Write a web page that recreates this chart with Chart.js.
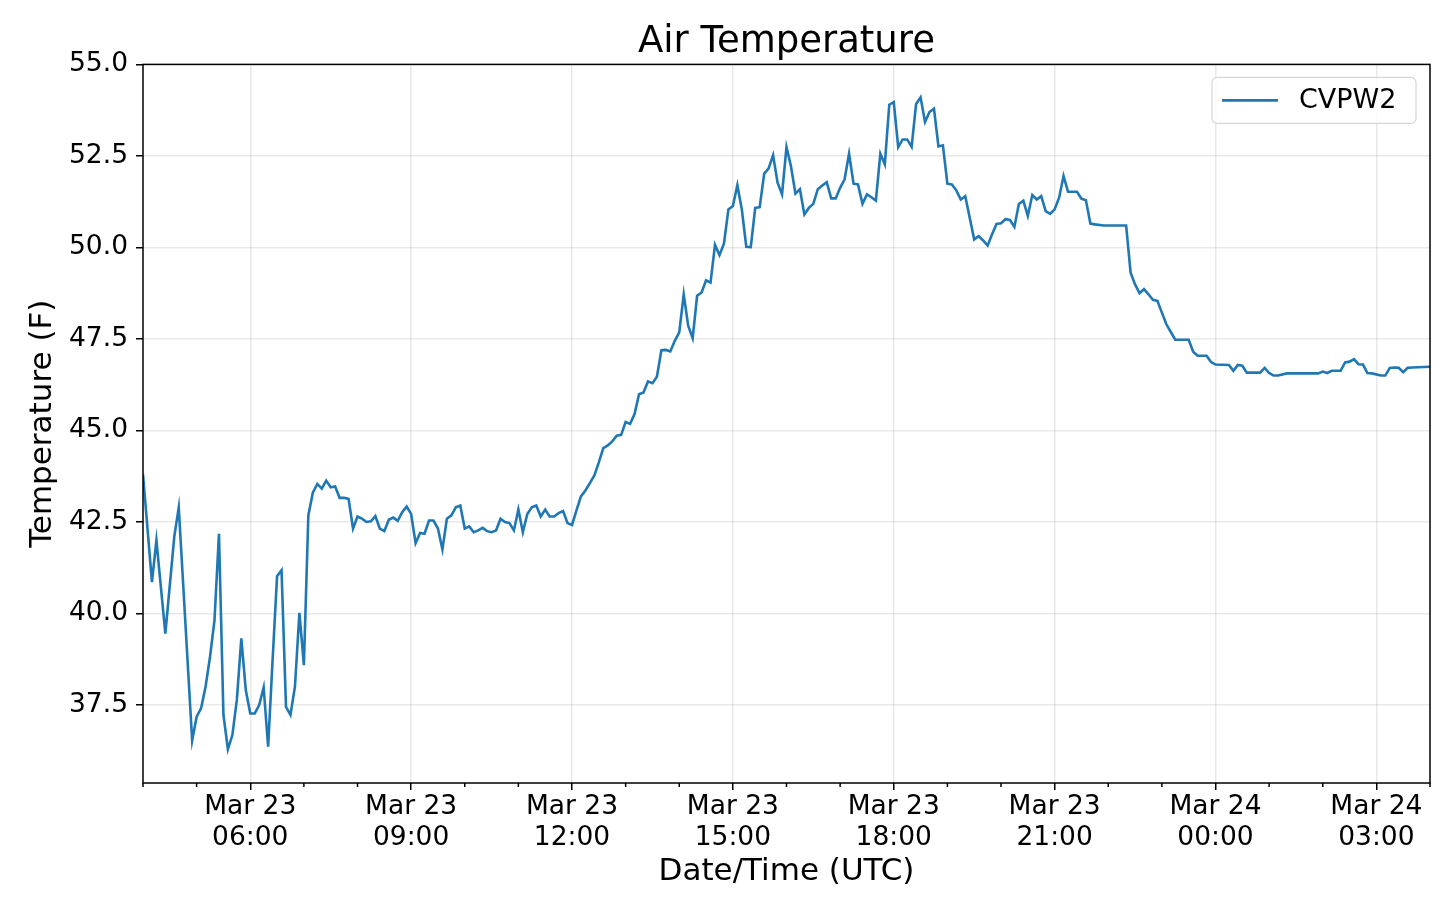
<!DOCTYPE html>
<html>
<head>
<meta charset="utf-8">
<title>Air Temperature</title>
<script src="https://cdn.jsdelivr.net/npm/chart.js@4.4.1/dist/chart.umd.min.js"></script>
<style>
  html, body { margin: 0; padding: 0; background: #fff; }
  #wrap { width: 1440px; height: 904px; position: relative; }
</style>
</head>
<body>
<div id="wrap"><canvas id="tempChart"></canvas></div>
<script>
// minutes after Mar 23 04:00 UTC
var minutes = [
    0, 10, 15, 25, 35, 40, 55, 60, 65, 70, 75, 80, 85, 90, 95, 100, 105, 110, 115, 120,
    125, 130, 135, 140, 145, 150, 155, 160, 165, 170, 175, 180, 185, 190, 195, 200, 205, 210, 215, 220,
    225, 230, 235, 240, 245, 250, 255, 260, 265, 270, 275, 280, 285, 290, 295, 300, 305, 310, 315, 320,
    325, 330, 335, 340, 345, 350, 355, 360, 365, 370, 375, 380, 385, 390, 395, 400, 405, 410, 415, 420,
    425, 430, 435, 440, 445, 450, 455, 460, 465, 470, 475, 480, 485, 490, 495, 500, 505, 510, 515, 520,
    525, 530, 535, 540, 545, 550, 555, 560, 565, 570, 575, 580, 585, 590, 595, 600, 605, 610, 615, 620,
    625, 630, 635, 640, 645, 650, 655, 660, 665, 670, 675, 680, 685, 690, 695, 700, 705, 710, 715, 720,
    725, 730, 735, 740, 745, 750, 755, 760, 765, 770, 775, 780, 785, 790, 795, 800, 805, 810, 815, 820,
    825, 830, 835, 840, 845, 850, 855, 860, 865, 870, 875, 880, 885, 890, 895, 900, 905, 910, 915, 920,
    930, 935, 940, 945, 950, 955, 960, 965, 970, 975, 980, 985, 990, 995, 1000, 1005, 1010, 1015, 1020, 1025,
    1030, 1035, 1040, 1045, 1050, 1055, 1060, 1065, 1075, 1100, 1105, 1110, 1115, 1120, 1125, 1130, 1135, 1140, 1145, 1150,
    1155, 1170, 1175, 1180, 1190, 1195, 1200, 1215, 1220, 1225, 1230, 1235, 1250, 1255, 1260, 1265, 1270, 1280, 1315, 1320,
    1325, 1330, 1340, 1345, 1350, 1355, 1360, 1365, 1370, 1375, 1385, 1390, 1395, 1400, 1405, 1410, 1415, 1420, 1440
];

var tempF = [
    43.8, 40.86, 42.0, 39.45, 42.1, 42.9, 36.53, 37.18, 37.41, 38.0, 38.82, 39.82, 42.18, 37.23, 36.29, 36.68, 37.64, 39.32, 37.91, 37.27,
    37.27, 37.5, 37.98, 36.36, 38.73, 41.02, 41.18, 37.45, 37.23, 38.0, 40.02, 38.59, 42.68, 43.3, 43.54, 43.41, 43.63, 43.45, 43.47, 43.16,
    43.16, 43.13, 42.32, 42.65, 42.59, 42.5, 42.52, 42.66, 42.32, 42.25, 42.56, 42.62, 42.53, 42.77, 42.92, 42.72, 41.92, 42.2, 42.18, 42.54,
    42.54, 42.32, 41.75, 42.59, 42.68, 42.9, 42.95, 42.32, 42.38, 42.22, 42.27, 42.34, 42.25, 42.22, 42.27, 42.59, 42.5, 42.47, 42.27, 42.84,
    42.22, 42.72, 42.9, 42.95, 42.65, 42.84, 42.65, 42.65, 42.74, 42.8, 42.47, 42.42, 42.82, 43.2, 43.36, 43.56, 43.77, 44.13, 44.52, 44.59,
    44.7, 44.86, 44.88, 45.23, 45.18, 45.45, 45.99, 46.04, 46.34, 46.29, 46.47, 47.19, 47.2, 47.16, 47.45, 47.68, 48.72, 47.86, 47.52, 48.68,
    48.77, 49.1, 49.04, 50.07, 49.79, 50.1, 51.04, 51.13, 51.7, 51.04, 50.02, 50.01, 51.08, 51.1, 52.01, 52.16, 52.52, 51.77, 51.45, 52.74,
    52.22, 51.47, 51.59, 50.9, 51.08, 51.19, 51.59, 51.69, 51.78, 51.34, 51.34, 51.63, 51.86, 52.56, 51.74, 51.72, 51.19, 51.45, 51.37, 51.28,
    52.56, 52.27, 53.9, 53.97, 52.74, 52.95, 52.95, 52.75, 53.92, 54.1, 53.43, 53.7, 53.79, 52.76, 52.79, 51.74, 51.72, 51.56, 51.31, 51.4,
    50.22, 50.31, 50.19, 50.05, 50.36, 50.64, 50.66, 50.77, 50.75, 50.56, 51.19, 51.28, 50.86, 51.43, 51.31, 51.4, 50.99, 50.92, 51.04, 51.36,
    51.95, 51.52, 51.52, 51.52, 51.33, 51.29, 50.65, 50.63, 50.6, 50.6, 49.31, 48.99, 48.75, 48.86, 48.72, 48.57, 48.54, 48.22, 47.9, 47.69,
    47.48, 47.48, 47.15, 47.04, 47.04, 46.87, 46.8, 46.79, 46.63, 46.79, 46.77, 46.58, 46.58, 46.71, 46.57, 46.5, 46.5, 46.56, 46.56, 46.61,
    46.57, 46.63, 46.63, 46.86, 46.88, 46.95, 46.81, 46.8, 46.57, 46.56, 46.5, 46.5, 46.71, 46.72, 46.71, 46.59, 46.71, 46.72, 46.74
];

var seriesName = 'CVPW2';

// labelled (major) x ticks, every 3 hours
var tickMinutes = [120, 300, 480, 660, 840, 1020, 1200, 1380];
var tickDates = ['Mar 23', 'Mar 23', 'Mar 23', 'Mar 23', 'Mar 23', 'Mar 23', 'Mar 24', 'Mar 24'];
var tickTimes = ['06:00', '09:00', '12:00', '15:00', '18:00', '21:00', '00:00', '03:00'];

var FONT = "'DejaVu Sans', sans-serif";
var LINE_COLOR = '#1f77b4';
var GRID_COLOR = 'rgba(0, 0, 0, 0.085)';

Chart.defaults.font.family = FONT;
Chart.defaults.color = '#000';

function isMajor(ctx) {
    return ctx.tick && tickMinutes.indexOf(ctx.tick.value) !== -1;
}

// frame, minor ticks and the boxed legend inside the plot
var axesExtras = {
    id: 'axesExtras',
    afterDraw: function(chart) {
        var ctx = chart.ctx;
        var area = chart.chartArea;
        var xScale = chart.scales.x;

        ctx.save();
        ctx.strokeStyle = '#000';
        ctx.lineWidth = 1.5;
        for (var m = 0; m <= 1440; m += 60) {
            if (tickMinutes.indexOf(m) !== -1) continue;
            var px = xScale.getPixelForValue(m);
            ctx.beginPath();
            ctx.moveTo(px, area.bottom);
            ctx.lineTo(px, area.bottom + 4);
            ctx.stroke();
        }
        ctx.strokeRect(area.left, area.top, area.right - area.left, area.bottom - area.top);

        // legend
        var boxW = 204, boxH = 46;
        var bx = area.right - 14 - boxW;
        var by = area.top + 13;
        ctx.beginPath();
        ctx.roundRect(bx, by, boxW, boxH, 5);
        ctx.fillStyle = 'rgba(255, 255, 255, 0.8)';
        ctx.fill();
        ctx.strokeStyle = '#d6d6d6';
        ctx.lineWidth = 1.2;
        ctx.stroke();

        var ds = chart.data.datasets[0];
        ctx.beginPath();
        ctx.moveTo(bx + 10, by + boxH / 2);
        ctx.lineTo(bx + 66, by + boxH / 2);
        ctx.strokeStyle = ds.borderColor;
        ctx.lineWidth = ds.borderWidth;
        ctx.stroke();

        ctx.fillStyle = '#000';
        ctx.font = '27px ' + FONT;
        ctx.textBaseline = 'middle';
        ctx.textAlign = 'left';
        ctx.fillText(ds.label, bx + 87, by + boxH / 2 + 1);
        ctx.restore();
    }
};

var ctx = document.getElementById('tempChart').getContext('2d');

var tempChart = new Chart(ctx, {
    type: 'line',
    data: {
        datasets: [{
            label: seriesName,
            data: minutes.map(function(m, i) { return { x: m, y: tempF[i] }; }),
            borderColor: LINE_COLOR,
            backgroundColor: LINE_COLOR,
            borderWidth: 2.6,
            pointRadius: 0,
            tension: 0,
            fill: false
        }]
    },
    options: {
        responsive: true,
        maintainAspectRatio: false,
        animation: false,
        layout: { padding: { left: 0, right: 10, top: 0, bottom: 0 } },
        plugins: {
            legend: { display: false },
            tooltip: { enabled: false },
            title: {
                display: true,
                fullSize: false,
                text: 'Air Temperature',
                font: { size: 37, weight: 'normal', lineHeight: 1.2 },
                color: '#000',
                padding: { top: 20, bottom: 0 }
            }
        },
        scales: {
            x: {
                type: 'linear',
                min: 0,
                max: 1440,
                afterFit: function(scale) { scale.height = 121; },
                border: { display: false },
                grid: {
                    color: function(c) { return isMajor(c) ? GRID_COLOR : 'rgba(0,0,0,0)'; },
                    lineWidth: 1.5,
                    tickColor: function(c) { return isMajor(c) ? '#000' : 'rgba(0,0,0,0)'; },
                    tickLength: 7,
                    tickWidth: 1.5
                },
                ticks: {
                    stepSize: 60,
                    autoSkip: false,
                    maxRotation: 0,
                    padding: 2,
                    font: { size: 26.5, lineHeight: 1.16 },
                    color: '#000',
                    callback: function(value) {
                        var i = tickMinutes.indexOf(value);
                        return i === -1 ? '' : [tickDates[i], tickTimes[i]];
                    }
                },
                title: {
                    display: true,
                    text: 'Date/Time (UTC)',
                    font: { size: 31, lineHeight: 1.2 },
                    color: '#000',
                    padding: { top: 0, bottom: 13 }
                }
            },
            y: {
                min: 35.37,
                max: 55,
                afterFit: function(scale) { scale.width = 143; },
                border: { display: false },
                grid: {
                    color: GRID_COLOR,
                    lineWidth: 1.5,
                    tickColor: '#000',
                    tickLength: 7,
                    tickWidth: 1.5
                },
                ticks: {
                    stepSize: 2.5,
                    includeBounds: false,
                    padding: 8,
                    font: { size: 26.5 },
                    color: '#000',
                    callback: function(value) { return value.toFixed(1); }
                },
                title: {
                    display: true,
                    text: 'Temperature (F)',
                    font: { size: 31, lineHeight: 1.2 },
                    color: '#000',
                    padding: { top: 24, bottom: 0 }
                }
            }
        }
    },
    plugins: [axesExtras]
});
</script>
</body>
</html>
